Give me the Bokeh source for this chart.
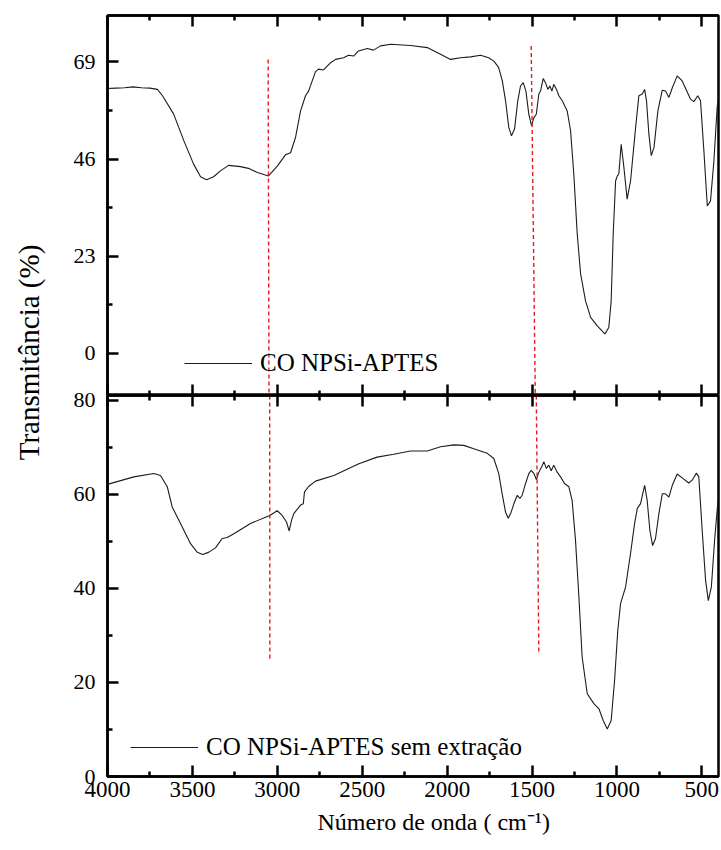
import math
from bokeh.plotting import figure
from bokeh.models import Range1d, FixedTicker, LinearAxis, Legend, LegendItem, Title
from bokeh.layouts import row, column
from bokeh.core.properties import value
from bokeh.embed import file_html
from bokeh.resources import INLINE

FONT = "Liberation Serif"

# ---------------- data ----------------
# Top spectrum: CO NPSi-APTES
wn_top = [4000, 3950, 3900, 3850, 3800, 3750, 3706, 3676, 3611, 3550,
          3493, 3452, 3417, 3375, 3335, 3287, 3217, 3170, 3117, 3052,
          2999, 2952, 2922, 2893, 2863, 2834, 2816, 2775, 2757, 2728,
          2687, 2657, 2610, 2580, 2551, 2522, 2470, 2434, 2392, 2333,
          2216, 2117, 2039, 1980, 1921, 1862, 1803, 1756, 1725, 1697,
          1675, 1656, 1637, 1621, 1603, 1584, 1568, 1552, 1536, 1519,
          1503, 1489, 1475, 1460, 1450, 1434, 1421, 1407, 1395, 1383,
          1372, 1356, 1342, 1322, 1293, 1273, 1254, 1234, 1214, 1185,
          1155, 1116, 1071, 1048, 1034, 1022, 1008, 998, 989, 975,
          959, 940, 920, 890, 871, 851, 837, 826, 812, 798,
          782, 759, 733, 714, 694, 674, 645, 616, 567, 547,
          524, 508, 488, 468, 449, 429, 410, 402]
t_top = [62.7, 62.8, 62.9, 63.1, 62.9, 62.8, 62.5, 61.0, 56.7, 50.3,
         44.8, 41.8, 41.1, 41.8, 43.2, 44.5, 44.2, 43.8, 42.8, 42.0,
         44.4, 47.0, 47.5, 51.1, 57.4, 61.0, 62.1, 66.7, 67.3, 67.1,
         68.8, 69.6, 70.0, 70.6, 70.4, 71.6, 72.2, 71.8, 72.8, 73.2,
         72.9, 72.4, 70.8, 69.6, 70.0, 70.2, 70.6, 70.0, 69.2, 67.7,
         64.5, 59.8, 53.5, 51.5, 53.1, 59.8, 63.3, 64.1, 62.1, 56.6,
         53.9, 55.8, 56.6, 61.4, 62.1, 65.1, 64.1, 62.5, 63.3, 62.1,
         63.7, 62.5, 61.0, 59.8, 57.4, 52.7, 42.4, 28.3, 18.8, 12.4,
         8.5, 6.5, 4.6, 6.1, 12.4, 28.3, 40.8, 42.0, 42.4, 49.5,
         44.0, 36.5, 40.8, 53.5, 61.0, 61.4, 62.5, 59.8, 51.9, 46.8,
         48.7, 57.4, 62.3, 62.1, 60.6, 62.9, 65.7, 64.5, 60.2, 59.6,
         61.0, 59.8, 47.9, 34.9, 36.1, 45.6, 58.2, 61.0]

# Bottom spectrum: CO NPSi-APTES sem extração
wn_bot = [4000, 3845, 3727, 3688, 3648, 3619, 3570, 3511, 3472, 3439,
          3403, 3364, 3325, 3295, 3256, 3158, 3044, 3001, 2971, 2946,
          2930, 2916, 2903, 2863, 2847, 2840, 2814, 2775, 2667, 2520,
          2412, 2314, 2216, 2117, 2039, 1961, 1902, 1843, 1764, 1725,
          1696, 1676, 1656, 1640, 1623, 1607, 1587, 1572, 1558, 1538,
          1519, 1505, 1489, 1474, 1460, 1444, 1430, 1416, 1401, 1387,
          1372, 1352, 1332, 1309, 1283, 1264, 1244, 1224, 1205, 1175,
          1136, 1106, 1081, 1057, 1034, 1014, 995, 979, 949, 920,
          896, 880, 861, 837, 822, 806, 790, 773, 753, 733,
          714, 694, 674, 645, 616, 577, 557, 532, 518, 498,
          478, 462, 444, 425, 405]
t_bot = [62.1, 63.7, 64.4, 64.0, 61.6, 57.3, 53.8, 49.5, 47.7, 47.2,
         47.7, 48.6, 50.6, 50.8, 51.6, 53.8, 55.5, 56.5, 55.5, 54.1,
         52.2, 54.5, 55.9, 57.7, 58.0, 60.5, 61.7, 62.8, 64.0, 66.5,
         67.9, 68.5, 69.2, 69.2, 70.1, 70.5, 70.4, 69.7, 68.7, 67.6,
         64.4, 60.1, 56.2, 54.9, 56.2, 58.0, 59.8, 59.1, 59.8, 62.3,
         64.4, 65.1, 64.4, 63.1, 64.7, 65.8, 66.9, 65.5, 66.2, 65.0,
         66.2, 64.7, 63.7, 62.3, 61.6, 58.7, 50.2, 38.1, 25.4, 17.6,
         15.5, 14.4, 11.9, 10.1, 11.9, 20.4, 31.1, 36.7, 40.3, 47.4,
         53.8, 57.0, 58.0, 61.9, 58.7, 52.3, 49.1, 50.6, 55.9, 60.1,
         60.1, 59.4, 61.9, 64.3, 63.5, 62.4, 63.0, 64.5, 63.7, 52.3,
         41.7, 37.4, 40.3, 50.2, 58.7]

label_top = "CO NPSi-APTES"
label_bot = "CO NPSi-APTES sem extração"

# ticks
x_major = [4000, 3500, 3000, 2500, 2000, 1500, 1000, 500]
x_minor = [3750, 3250, 2750, 2250, 1750, 1250, 750]
top_major = [0, 23, 46, 69]
top_minor = [11.5, 34.5, 57.5]
bot_major = [0, 20, 40, 60, 80]
bot_minor = [10, 30, 50, 70]

X_RANGE = (4000, 402)
TOP_Y = (-10, 80)
BOT_Y = (0, 81)

# red dashed marker lines (wavenumber, transmittance) per panel
m1_top_x = [3054, 3049]
m1_top_y = [69.6, -10]
m1_bot_x = [3045, 3044]
m1_bot_y = [81, 24.7]
m2_top_x = [1505, 1481]
m2_top_y = [72.8, -10]
m2_bot_x = [1475, 1460]
m2_bot_y = [81, 26.2]

x_title = "Número de onda ( cm⁻¹)"
y_title = "Transmitância (%)"

LINE_COLOR = "#1c1c1c"
DASH_COLOR = "#e8191c"


def make_axis(major, minor, labels, font_size="22px", standoff=10):
    ax = LinearAxis(ticker=FixedTicker(ticks=major, minor_ticks=minor))
    ax.axis_line_width = 2.5
    ax.axis_line_color = "black"
    ax.major_tick_line_width = 2.5
    ax.minor_tick_line_width = 2.5
    ax.major_tick_line_color = "black"
    ax.minor_tick_line_color = "black"
    ax.major_tick_in = 11
    ax.major_tick_out = 0
    ax.minor_tick_in = 5
    ax.minor_tick_out = 0
    ax.major_label_text_font = FONT
    ax.major_label_text_color = "black"
    if labels:
        ax.major_label_text_font_size = font_size
        ax.major_label_standoff = standoff
    else:
        ax.major_label_overrides = {t: "" for t in major}
        ax.major_label_text_font_size = "1px"
        ax.major_label_standoff = 0
    return ax


def base_fig(height, y_range, border_top, border_bottom):
    p = figure(width=673, height=height,
               x_range=Range1d(*X_RANGE), y_range=Range1d(*y_range),
               output_backend="svg", toolbar_location=None,
               x_axis_location=None, y_axis_location=None,
               min_border_left=59, min_border_right=3,
               min_border_top=border_top, min_border_bottom=border_bottom)
    p.grid.visible = False
    p.outline_line_color = "black"
    p.outline_line_width = 2.5
    p.background_fill_color = "white"
    return p


def make_legend(label, renderer, loc):
    return Legend(items=[LegendItem(label=label, renderers=[renderer])],
                  location=loc, border_line_color=None,
                  background_fill_alpha=0, padding=0, margin=0, spacing=0,
                  glyph_width=68, glyph_height=20, label_standoff=8,
                  label_text_font=FONT, label_text_font_size="25px",
                  label_text_color="black", label_height=20)


# ---------------- top panel ----------------
top = base_fig(395, TOP_Y, 15, 0)
top.add_layout(make_axis(top_major, top_minor, True, "22px", 12), "left")
top.add_layout(make_axis(x_major, x_minor, False), "above")
top.add_layout(make_axis(x_major, x_minor, False), "below")

r_top = top.line(wn_top, t_top, line_color=LINE_COLOR, line_width=1.1)
top.line(m1_top_x, m1_top_y, line_color=DASH_COLOR, line_width=1.4, line_dash="4 3")
top.line(m2_top_x, m2_top_y, line_color=DASH_COLOR, line_width=1.4, line_dash="4 3")
top.add_layout(make_legend(label_top, r_top, (77, 18)))

# ---------------- bottom panel ----------------
bot = base_fig(469, BOT_Y, 14, 74)
bot.styles = {"margin-top": "-14px"}
bot.border_fill_alpha = 0
bot.add_layout(make_axis(bot_major, bot_minor, True, "22px", 12), "left")
bot.add_layout(make_axis(x_major, x_minor, False), "above")
bot.add_layout(make_axis(x_major, x_minor, True, "23px", 5), "below")

r_bot = bot.line(wn_bot, t_bot, line_color=LINE_COLOR, line_width=1.1)
bot.line(m1_bot_x, m1_bot_y, line_color=DASH_COLOR, line_width=1.4, line_dash="4 3")
bot.line(m2_bot_x, m2_bot_y, line_color=DASH_COLOR, line_width=1.4, line_dash="4 3")
bot.add_layout(make_legend(label_bot, r_bot, (23, 15)))

# x title as a title panel below the axis, left-aligned with an offset like the reference
bot.add_layout(Title(text=x_title, align="left", offset=210, standoff=14,
                     text_font=FONT, text_font_size="24px",
                     text_font_style="normal", text_color="black"), "below")

# ---------------- shared y title ----------------
lab = figure(width=48, height=850, x_range=Range1d(0, 48), y_range=Range1d(0, 850),
             output_backend="svg", toolbar_location=None,
             x_axis_location=None, y_axis_location=None, min_border=0)
lab.grid.visible = False
lab.outline_line_color = None
lab.text(x=[28], y=[498], text=[y_title], angle=math.pi / 2,
         text_align="center", text_baseline="middle",
         text_font=value(FONT), text_font_size="29px", text_color="black")

layout = row(lab, column(top, bot))

open("out.html", "w").write(file_html(layout, INLINE))
